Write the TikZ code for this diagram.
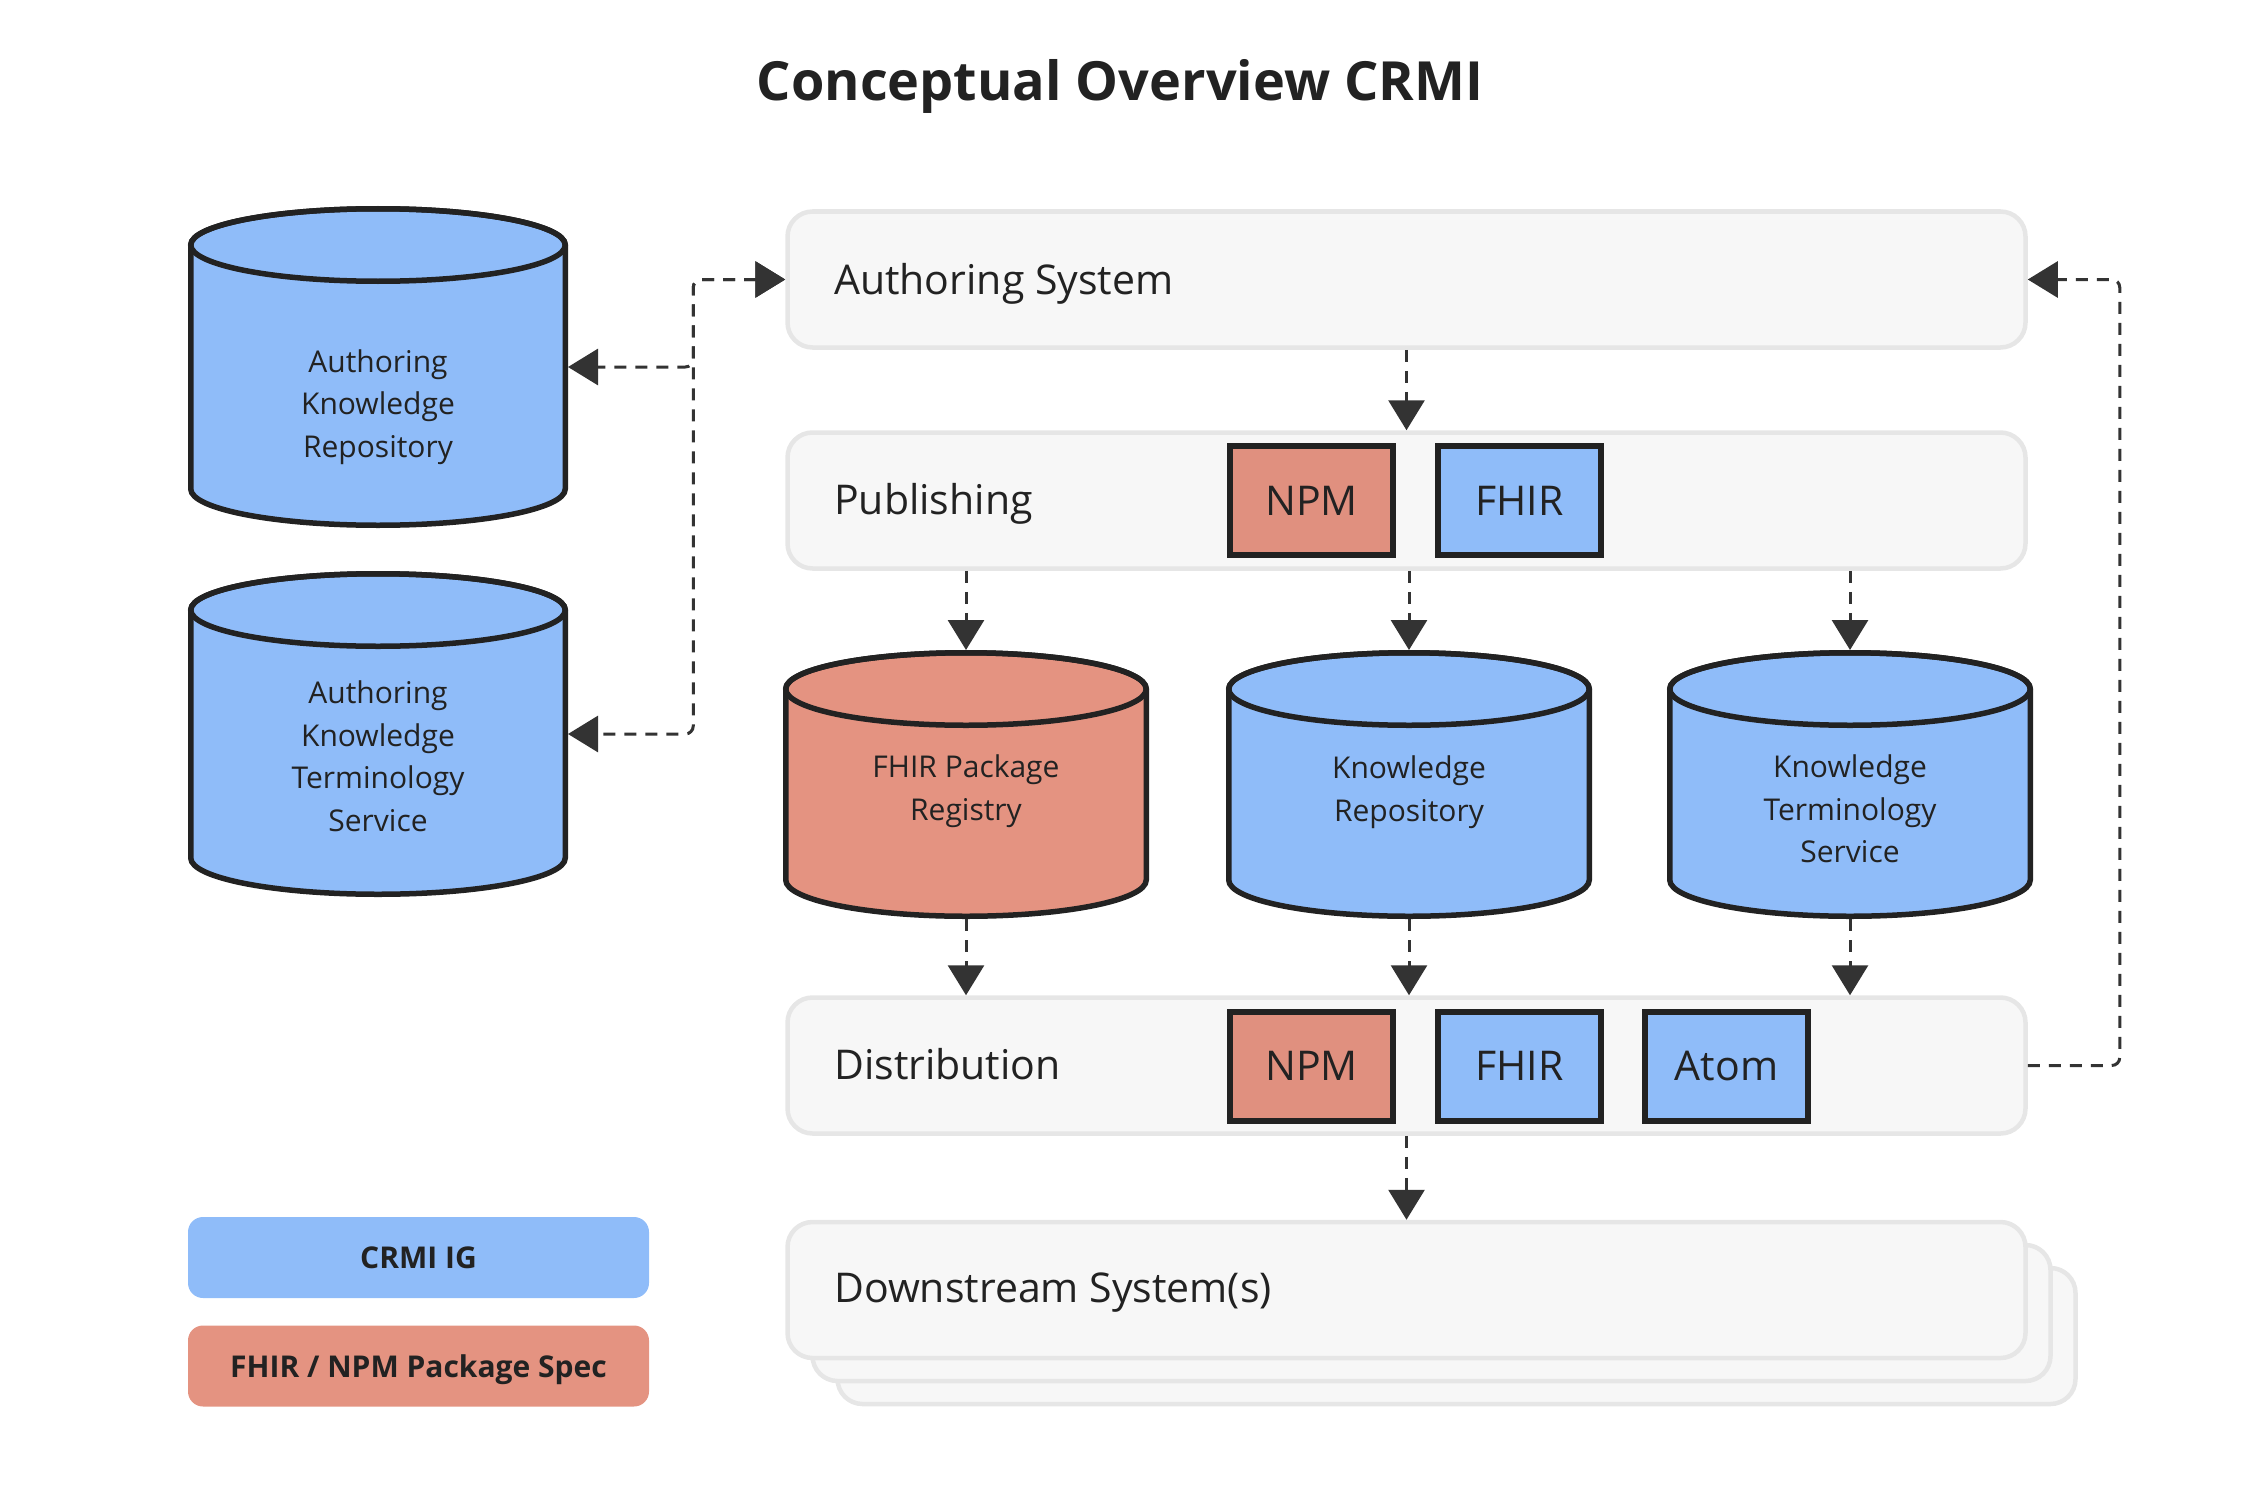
\documentclass[tikz,border=0pt]{standalone}
\usepackage{fontspec}
\setmainfont{Open Sans}
\usetikzlibrary{calc}
\usetikzlibrary{arrows.meta}

\definecolor{crmiblue}{HTML}{8FBCF9}
\definecolor{specred}{HTML}{E49381}
\definecolor{tagred}{HTML}{E0907F}
\definecolor{inkline}{HTML}{222222}
\definecolor{arrowink}{HTML}{333333}
\definecolor{boxfill}{HTML}{F7F7F7}
\definecolor{boxline}{HTML}{E6E6E6}

\tikzset{
  stage/.style={draw=boxline, fill=boxfill, line width=4.5pt, rounded corners=25pt,
    minimum width=1238pt, minimum height=136pt, inner sep=0pt},
  stagetext/.style={anchor=base west, inner sep=0pt, text=inkline, font=\fontsize{41}{49}\selectfont},
  tag/.style={draw=inkline, line width=6pt, minimum width=163pt, minimum height=109pt,
    inner sep=0pt, text=inkline, font=\fontsize{41}{49}\selectfont, text height=29pt, text depth=0pt},
  cylline/.style={draw=inkline, line width=5.5pt},
  cyltext/.style={align=center, inner sep=0pt, text=inkline, font=\fontsize{30}{42.5}\selectfont},
  legend/.style={rounded corners=15pt, minimum width=461pt, minimum height=81pt, inner sep=0pt,
    text=inkline, font=\bfseries\fontsize{30}{36}\selectfont, text height=22pt, text depth=0pt},
  flow/.style={draw=arrowink, line width=3pt, dash pattern=on 12pt off 9pt, rounded corners=8pt,
    -{Triangle[length=30pt, width=36pt]}},
  both/.style={flow, {Triangle[length=30pt, width=36pt]}-{Triangle[length=30pt, width=36pt]}},
}

% name, centre x, top, bottom, half width, fill
\newcommand{\dbcyl}[6]{%
  \draw[cylline, fill=#6] ({#2-(#5-2.75)},{-(#3+39)}) -- ({#2-(#5-2.75)},{-(#4-39)})
    arc[start angle=180, end angle=360, x radius={#5-2.75}, y radius=36.25]
    -- ({#2+(#5-2.75)},{-(#3+39)})
    arc[start angle=0, end angle=180, x radius={#5-2.75}, y radius=36.25] -- cycle;
  \draw[cylline] (#2,{-(#3+39)}) ellipse[x radius={#5-2.75}, y radius=36.25];
  \node[inner sep=0pt, outer sep=0pt, minimum width={2*#5}, minimum height={#4-#3}] (#1) at (#2,{-(#3+#4)/2}) {};
}

\begin{document}
\begin{tikzpicture}[x=1pt, y=1pt]
\useasboundingbox (0,0) rectangle (2245,-1498);

\node[anchor=base, inner sep=0pt, text=inkline, font=\bfseries\fontsize{54}{65}\selectfont] (title) at (1120,-101) {Conceptual Overview CRMI};

% stages
\node[stage] (auth) at (1406.5,-279.5) {};
\node[stage] (pub) at (1406.5,-500.5) {};
\node[stage] (dist) at (1406.5,-1065.5) {};
\node[stage] at (1456.5,-1336) {};
\node[stage] at (1431.5,-1313) {};
\node[stage] (down) at (1406.5,-1290) {};

\node[stagetext] (authtext) at (834,-294) {Authoring System};
\node[stagetext] (pubtext) at (834,-514) {Publishing};
\node[stagetext] (disttext) at (834,-1079) {Distribution};
\node[stagetext] (downtext) at (834,-1302) {Downstream System(s)};

\node[tag, fill=tagred] (pubnpm) at (1311.5,-500.5) {NPM};
\node[tag, fill=crmiblue] (pubfhir) at (1519.5,-500.5) {FHIR};
\node[tag, fill=tagred] (distnpm) at (1311.5,-1066) {NPM};
\node[tag, fill=crmiblue] (distfhir) at (1519.5,-1066) {FHIR};
\node[tag, fill=crmiblue] (distatom) at (1726.5,-1066) {Atom};

% repositories
\dbcyl{akr}{378}{206}{528}{190}{crmiblue}
\dbcyl{akts}{378}{571}{897}{190}{crmiblue}
\dbcyl{fpr}{966}{650}{919}{183}{specred}
\dbcyl{kr}{1409}{650}{919}{183}{crmiblue}
\dbcyl{kts}{1850}{650}{919}{183}{crmiblue}

\node[cyltext] (akrtext) at (378,-407) {Authoring\\Knowledge\\Repository};
\node[cyltext] (aktstext) at (378,-756) {Authoring\\Knowledge\\Terminology\\Service};
\node[cyltext] (fprtext) at (966,-791) {FHIR Package\\Registry};
\node[cyltext] (krtext) at (1409,-792) {Knowledge\\Repository};
\node[cyltext] (ktstext) at (1850,-809) {Knowledge\\Terminology\\Service};

% legend
\node[legend, fill=crmiblue] (legblue) at (418.5,-1257.5) {CRMI IG};
\node[legend, fill=specred] (legred) at (418.5,-1366) {FHIR / NPM Package Spec};

% flows
\draw[flow] (auth.south) -- (pub.north);
\foreach \db in {fpr, kr, kts} {
  \draw[flow] (pub.south -| \db.north) -- (\db.north);
  \draw[flow] (\db.south) -- (\db.south |- dist.north);
}
\draw[flow] (dist.south) -- (down.north);
\draw[flow] (dist.east) -- ++(92,0) |- (auth.east);
\draw[both] (auth.west) -- ++(-92,0) |- (akr.east);
\draw[both] (auth.west) -- ++(-92,0) |- (akts.east);

\end{tikzpicture}
\end{document}
